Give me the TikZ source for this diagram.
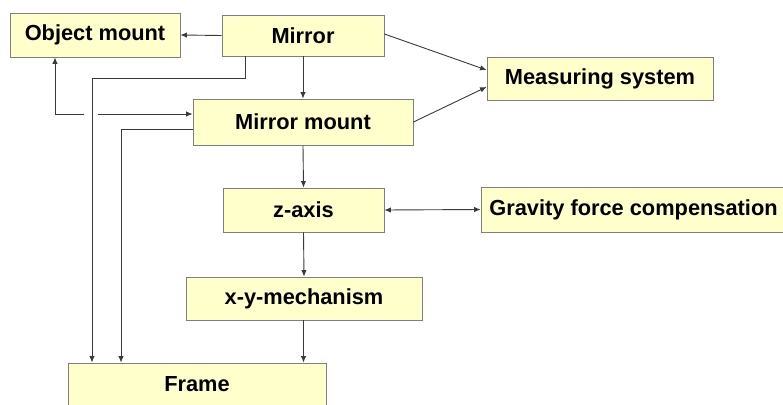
\documentclass[tikz,border=0pt]{standalone}
\usepackage{fontspec}
\setmainfont{Liberation Sans}
\usepackage{tikz}
\usetikzlibrary{arrows.meta}
\definecolor{boxyellow}{HTML}{FFFFCC}
\definecolor{boxline}{HTML}{7F7F7F}
\definecolor{conline}{HTML}{3A3A3A}

\tikzset{
  blk/.style={draw=boxline, line width=0.9pt, fill=boxyellow, inner sep=0pt,
    font=\fontsize{21.8}{25}\selectfont\bfseries},
  con/.style={conline, line width=0.9pt, -{Latex[length=6.5pt,width=5.5pt]}},
}

\begin{document}
\begin{tikzpicture}[x=1pt,y=-1pt]
    \useasboundingbox (0,0) rectangle (783,404);
    % boxes
    \node[blk, minimum width=170pt, minimum height=44pt] (objmount) at (95,35) {Object mount};
    \node[blk, minimum width=162pt, minimum height=41pt] (mirror) at (303,35.5) {Mirror};
    \node[blk, minimum width=226pt, minimum height=43pt] (measuring) at (600,78.5) {Measuring system};
    \node[blk, minimum width=220pt, minimum height=46pt] (mirrormount) at (303,122) {Mirror mount};
    \node[blk, minimum width=161pt, minimum height=44pt] (zaxis) at (303.5,210) {z-axis};
    \node[blk, minimum width=305pt, minimum height=45pt] (gravity) at (633.5,209.5) {Gravity force compensation};
    \node[blk, minimum width=236pt, minimum height=43pt] (xymech) at (304,298.5) {x-y-mechanism};
    \node[blk, minimum width=258pt, minimum height=42pt] (frame) at (197,384) {Frame};
    % bend points
    \coordinate (mirrorout) at (245,56);
    \coordinate (gapleft) at (84,114);
    \coordinate (gapright) at (98,114);
    % connectors
    \draw[con] (mirror.west) -- (objmount.east);
    \draw[con] (mirror.south) -- (mirrormount.north);
    \draw[con] (mirror.east |- 0,34) -- (measuring.west |- 0,70);
    \draw[con] (mirrormount.east |- 0,122) -- (measuring.west |- 0,87);
    \draw[con] (mirrormount.south) -- (zaxis.north);
    \draw[con, {Latex[length=6.5pt,width=5.5pt]}-{Latex[length=6.5pt,width=5.5pt]}] (zaxis.east) -- (gravity.west);
    \draw[con] (zaxis.south) -- (xymech.north);
    \draw[con] (xymech.south -| zaxis.south) -- (frame.north -| zaxis.south);
    \draw[con] (mirrorout) |- (92,78) -- (frame.north -| 92,0);
    \draw[con] (mirrormount.west |- 0,129) -| (frame.north -| 121,0);
    % bent link with gap
    \draw[con] (gapleft) -| (objmount.south -| 55,0);
    \draw[con] (gapright) -- (mirrormount.west |- gapright);
\end{tikzpicture}
\end{document}
